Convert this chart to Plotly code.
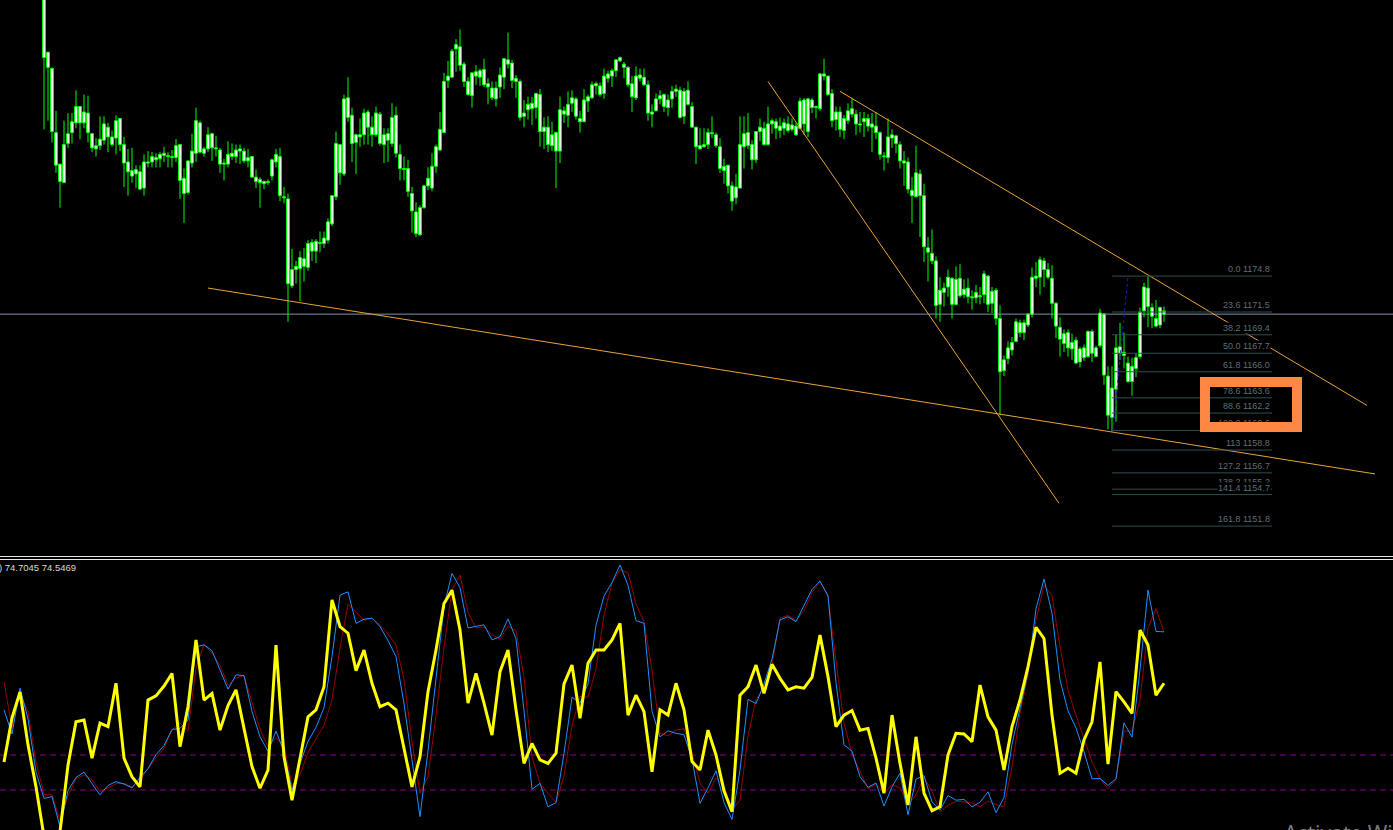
import plotly.graph_objects as go

# ---------------- price candles (bar index 0 = first visible bar) ----------------
OPEN = [
1201.1,1195.4,1193.9,1188.0,1185.1,1183.4,1187.0,1188.0,1188.9,1190.4,
1188.9,1189.8,1187.9,1186.8,1186.8,1187.3,1188.5,1187.6,1187.5,1189.3,
1186.9,1185.3,1184.5,1184.2,1184.4,1182.9,1185.3,1185.3,1185.7,1185.6,
1185.9,1185.9,1185.8,1185.7,1186.9,1183.8,1182.5,1185.2,1186.1,1188.9,
1186.1,1186.5,1187.9,1186.6,1186.4,1185.2,1185.1,1185.8,1186.4,1186.3,
1186.3,1185.4,1185.8,1183.9,1183.7,1183.5,1183.4,1184.0,1185.3,1185.8,
1182.1,1181.9,1173.9,1175.4,1175.5,1176.4,1175.6,1177.9,1177.1,1177.9,
1177.8,1178.1,1179.6,1182.1,1186.9,1184.2,1191.2,1189.6,1187.1,1187.8,
1187.8,1189.9,1188.5,1187.8,1189.7,1186.9,1187.3,1187.0,1189.6,1186.0,
1184.7,1184.7,1182.4,1180.7,1178.6,1181.1,1183.1,1182.9,1184.9,1186.4,
1188.0,1192.8,1193.1,1195.7,1195.9,1194.3,1192.7,1191.4,1193.2,1193.1,
1193.8,1192.5,1192.1,1191.1,1192.2,1193.1,1194.7,1194.4,1193.0,1192.7,
1189.5,1190.1,1190.2,1190.3,1191.5,1188.1,1188.5,1186.8,1188.0,1186.3,
1190.0,1189.6,1190.7,1191.1,1189.3,1189.0,1190.9,1191.2,1192.3,1192.3,
1191.6,1193.0,1193.2,1193.7,1194.6,1194.3,1194.0,1192.5,1191.2,1193.0,
1193.1,1192.4,1189.9,1190.0,1191.1,1191.5,1190.3,1191.1,1191.8,1191.9,
1189.5,1191.9,1190.4,1188.5,1186.5,1186.7,1186.9,1188.0,1187.8,1186.7,
1184.9,1185.0,1183.1,1182.0,1182.9,1186.7,1188.0,1186.9,1185.5,1188.1,
1188.4,1186.9,1188.8,1189.0,1188.6,1188.4,1188.8,1188.3,1188.6,1188.4,
1191.0,1188.1,1191.0,1190.3,1190.2,1193.4,1193.2,1191.6,1189.2,1189.9,
1188.2,1189.1,1189.7,1189.7,1188.8,1189.0,1189.3,1188.8,1188.6,1188.0,
1185.8,1185.7,1187.5,1187.7,1186.9,1185.4,1185.3,1182.7,1182.1,1184.2,
1182.2,1177.4,1176.9,1176.2,1172.2,1173.3,1173.8,1174.6,1172.2,1174.6,
1173.1,1173.7,1172.9,1172.8,1173.0,1173.1,1174.8,1172.3,1173.5,1170.9,
1166.1,1167.2,1168.0,1168.8,1170.5,1169.6,1170.3,1171.3,1174.6,1174.7,
1176.2,1175.4,1174.6,1172.3,1170.1,1169.5,1168.2,1168.7,1168.9,1166.9,
1168.2,1167.4,1169.7,1167.4,1168.4,1171.3,1165.6,1161.8,1164.4,1167.7,
1167.8,1166.8,1165.1,1166.3,1167.4,1171.6,1173.7,1171.9,1170.9,1170.3,
1171.6]
HIGH = [
1202.5,1195.4,1194.0,1190.0,1185.1,1189.1,1189.8,1189.8,1191.9,1190.4,
1191.5,1191.4,1188.0,1187.5,1189.5,1189.5,1188.9,1188.2,1189.6,1189.3,
1187.6,1186.5,1186.6,1185.0,1185.0,1186.0,1186.3,1186.2,1186.1,1186.2,
1186.7,1186.2,1186.4,1187.4,1186.9,1184.7,1185.4,1187.9,1190.3,1189.1,
1186.7,1188.5,1188.0,1187.7,1186.6,1185.6,1187.2,1187.0,1186.9,1186.9,
1186.6,1186.5,1185.8,1184.6,1183.9,1183.6,1183.7,1185.6,1186.5,1186.6,
1183.0,1182.4,1177.3,1176.2,1177.1,1177.4,1178.1,1178.2,1178.2,1178.9,
1178.9,1180.1,1182.2,1188.1,1186.9,1191.5,1193.1,1190.3,1187.9,1189.3,
1190.2,1190.1,1189.5,1190.4,1189.9,1188.4,1188.4,1190.7,1190.4,1186.9,
1185.8,1185.5,1183.0,1181.6,1181.3,1183.2,1184.8,1186.1,1186.9,1189.9,
1193.5,1194.6,1195.7,1196.6,1197.5,1194.5,1193.1,1193.5,1194.2,1193.9,
1194.8,1193.0,1192.7,1192.7,1194.0,1194.8,1197.2,1194.7,1193.3,1192.9,
1191.0,1191.3,1191.3,1191.6,1192.0,1189.4,1189.5,1189.0,1188.1,1191.3,
1190.4,1191.8,1191.9,1191.3,1190.0,1192.0,1191.5,1192.7,1192.7,1192.6,
1193.9,1193.7,1193.9,1194.7,1195.0,1194.5,1194.1,1193.2,1194.1,1193.9,
1193.9,1192.8,1190.6,1191.6,1191.9,1191.6,1191.5,1192.3,1192.4,1192.2,
1192.1,1192.7,1190.8,1188.5,1188.4,1188.4,1188.4,1189.5,1188.0,1187.5,
1185.6,1185.0,1183.5,1184.2,1189.5,1189.5,1189.8,1187.3,1188.1,1189.3,
1189.0,1190.4,1189.3,1189.3,1189.4,1189.3,1189.5,1189.3,1188.9,1191.2,
1191.2,1191.2,1191.2,1190.5,1193.5,1194.8,1193.2,1192.0,1190.4,1190.4,
1189.6,1190.7,1191.2,1190.1,1189.9,1189.9,1189.7,1189.8,1189.9,1188.1,
1186.2,1189.3,1188.3,1187.8,1187.2,1186.3,1185.7,1183.9,1186.8,1184.6,
1183.3,1178.4,1179.1,1176.6,1174.7,1174.2,1175.4,1174.7,1175.7,1175.9,
1174.5,1174.6,1173.5,1174.0,1173.8,1175.3,1174.9,1173.8,1173.7,1172.1,
1167.5,1168.8,1169.2,1170.9,1170.8,1170.8,1171.4,1175.6,1176.1,1176.6,
1176.5,1176.0,1175.8,1172.4,1171.0,1169.9,1169.9,1169.5,1169.2,1168.3,
1168.5,1169.8,1169.9,1168.4,1171.8,1171.4,1166.5,1166.5,1169.4,1170.5,
1169.6,1167.4,1167.3,1167.7,1171.9,1174.2,1174.8,1172.3,1172.6,1172.0,
1172.0]
LOW = [
1188.3,1189.1,1187.1,1184.3,1181.1,1183.4,1186.6,1187.0,1188.4,1187.4,
1188.4,1187.1,1186.2,1185.8,1186.4,1186.9,1186.2,1186.7,1186.0,1186.3,
1183.0,1182.2,1183.4,1182.9,1182.7,1182.2,1184.8,1184.8,1184.8,1184.8,
1185.3,1184.8,1184.8,1185.3,1181.9,1179.7,1182.3,1184.8,1185.3,1186.1,
1185.8,1186.2,1185.4,1185.8,1184.3,1183.6,1184.8,1185.5,1185.2,1185.1,
1185.2,1184.8,1183.9,1182.9,1181.1,1182.8,1183.2,1183.6,1184.8,1181.7,
1181.5,1170.6,1173.7,1174.1,1172.5,1174.3,1175.3,1176.2,1176.0,1177.0,
1177.4,1177.8,1179.4,1181.8,1183.2,1184.0,1189.0,1185.3,1184.2,1186.7,
1186.9,1186.9,1186.7,1187.6,1186.8,1185.2,1185.3,1186.7,1185.7,1183.6,
1183.6,1182.1,1178.8,1178.4,1178.5,1181.0,1182.7,1182.6,1184.3,1186.3,
1188.0,1192.1,1193.0,1193.6,1193.7,1192.2,1191.4,1190.3,1192.4,1192.3,
1192.2,1190.6,1191.0,1190.4,1191.2,1192.0,1193.9,1192.1,1191.2,1189.1,
1188.5,1189.2,1188.7,1189.3,1186.7,1186.5,1186.2,1186.3,1182.9,1185.2,
1188.9,1188.5,1189.9,1189.2,1188.0,1189.0,1189.9,1191.1,1191.5,1191.3,
1191.1,1192.6,1192.2,1193.1,1194.5,1193.0,1192.2,1189.9,1191.0,1192.7,
1192.3,1189.1,1188.5,1190.0,1190.6,1189.9,1189.5,1190.3,1191.3,1189.3,
1188.8,1190.5,1188.5,1185.1,1186.5,1186.6,1186.5,1187.5,1186.6,1184.3,
1183.3,1182.4,1180.8,1181.4,1182.9,1184.7,1186.5,1184.6,1185.2,1187.2,
1186.8,1186.8,1187.9,1187.4,1187.5,1187.8,1188.0,1188.1,1187.7,1188.3,
1187.8,1187.6,1189.8,1189.3,1190.0,1192.8,1191.4,1188.5,1188.2,1187.6,
1187.4,1188.8,1189.4,1187.8,1188.0,1187.6,1188.1,1186.2,1187.4,1185.5,
1184.5,1185.2,1186.6,1186.1,1184.7,1183.1,1182.4,1179.7,1182.1,1178.4,
1176.1,1174.3,1175.9,1170.9,1170.6,1172.0,1172.9,1170.9,1172.1,1172.8,
1172.8,1172.3,1171.7,1172.3,1172.2,1172.3,1171.5,1171.4,1170.3,1162.0,
1165.6,1166.7,1167.5,1168.7,1169.2,1168.9,1170.1,1171.0,1173.8,1173.1,
1173.8,1174.5,1170.9,1169.1,1167.4,1167.8,1167.4,1167.1,1166.7,1166.4,
1167.0,1167.3,1166.9,1167.4,1168.2,1164.8,1160.7,1160.5,1161.4,1167.1,
1166.3,1165.0,1163.8,1165.5,1167.2,1171.0,1170.1,1170.0,1170.1,1170.0,
1170.6]
CLOSE = [
1194.9,1194.0,1188.1,1185.0,1183.5,1186.9,1187.9,1189.0,1190.4,1188.9,
1189.9,1188.0,1186.6,1186.5,1187.4,1188.8,1187.6,1186.9,1189.1,1186.9,
1185.2,1184.4,1184.0,1184.6,1182.8,1185.3,1185.2,1185.8,1185.5,1186.0,
1186.1,1185.8,1185.7,1186.8,1183.6,1182.4,1185.4,1186.3,1189.1,1186.2,
1186.5,1187.8,1186.6,1186.5,1185.1,1185.1,1186.0,1186.1,1185.8,1186.5,
1185.4,1185.7,1183.9,1183.5,1183.4,1183.3,1183.5,1185.5,1186.0,1182.2,
1182.0,1174.1,1175.4,1175.7,1176.5,1175.7,1177.8,1177.1,1178.0,1177.8,
1178.3,1179.8,1182.2,1187.0,1184.3,1191.1,1189.4,1187.0,1187.8,1187.6,
1189.8,1188.5,1187.8,1189.8,1187.0,1187.8,1187.9,1189.4,1186.1,1184.7,
1184.6,1182.6,1180.8,1178.7,1181.1,1183.1,1183.8,1184.9,1186.7,1188.3,
1192.7,1193.2,1195.5,1196.1,1194.2,1192.7,1191.5,1193.5,1193.6,1193.7,
1192.4,1192.2,1191.2,1192.1,1193.3,1194.8,1194.3,1192.8,1192.7,1189.4,
1189.8,1190.6,1190.7,1191.6,1188.1,1188.5,1186.9,1187.8,1186.3,1190.1,
1189.7,1190.6,1191.2,1189.5,1189.0,1191.0,1191.3,1192.4,1192.5,1191.5,
1193.2,1193.4,1193.7,1194.7,1194.9,1194.0,1192.4,1191.3,1193.2,1193.3,
1192.4,1189.8,1189.7,1191.1,1191.4,1190.4,1191.0,1191.8,1192.0,1189.4,
1191.8,1190.6,1188.5,1186.7,1186.8,1186.9,1188.0,1187.9,1186.8,1184.7,
1184.5,1183.1,1181.7,1183.0,1186.9,1187.9,1186.8,1185.5,1188.1,1188.5,
1186.9,1188.8,1189.1,1188.4,1188.2,1188.9,1188.2,1188.7,1187.8,1190.9,
1188.8,1191.1,1190.3,1190.4,1193.4,1193.2,1191.5,1189.1,1189.9,1188.3,
1189.3,1190.0,1190.2,1188.8,1188.7,1189.3,1188.6,1188.5,1188.0,1186.0,
1185.8,1187.6,1187.8,1187.0,1185.4,1185.2,1182.8,1182.2,1184.3,1182.2,
1177.5,1177.0,1176.2,1172.1,1173.5,1173.7,1174.7,1172.2,1174.5,1173.0,
1173.6,1172.9,1172.8,1173.3,1172.9,1175.0,1172.2,1173.4,1170.9,1166.0,
1167.1,1168.2,1168.7,1170.6,1169.6,1170.5,1171.3,1174.7,1174.8,1176.3,
1175.4,1174.7,1172.3,1170.2,1169.0,1168.6,1169.6,1168.1,1166.8,1168.1,
1167.3,1169.7,1167.7,1168.2,1171.4,1165.7,1162.0,1164.5,1168.2,1168.3,
1167.5,1165.1,1166.5,1167.3,1171.5,1173.8,1172.0,1171.1,1170.2,1171.9,
1171.3]

BID = 1171.3

# trend lines: (bar index, price) end points
TREND_LINES = [
    ([41.0, 332.75], [1173.7, 1156.6]),
    ([181.0, 253.75], [1192.7, 1153.9]),
    ([199.0, 330.75], [1191.8, 1162.9]),
]

# Fibonacci retracement
FIB_LEVELS = ["0.0", "23.6", "38.2", "50.0", "61.8", "78.6", "88.6", "100.0",
              "113", "127.2", "138.2", "141.4", "161.8"]
FIB_PRICES = [1174.8, 1171.5, 1169.4, 1167.7, 1166.0, 1163.6, 1162.2, 1160.6,
              1158.8, 1156.7, 1155.2, 1154.7, 1151.8]
FIB_BARS = [267.0, 307.0]
FIB_ANCHOR_BARS = [267.25, 271.0]
FIB_ANCHOR_PRICES = [1160.6, 1174.8]

# ---------------- oscillator (every second bar) ----------------
IND_BARS = list(range(-10, 281, 2))
YELLOW = [
28.0,40.6,48.0,32.9,20.9,6.7,5.7,8.1,27.1,39.5,
40.0,29.1,39.1,38.1,50.5,29.1,23.8,20.9,45.7,46.9,
49.7,53.3,32.4,43.8,62.9,45.7,47.6,37.1,44.1,48.6,
37.6,26.7,20.5,25.7,61.4,29.5,17.1,28.6,40.9,42.9,
49.5,74.3,66.7,64.8,54.1,60.0,50.5,43.8,44.8,42.9,
31.9,20.9,29.5,48.1,60.0,73.3,77.1,65.7,44.8,53.3,
44.8,35.7,53.8,60.0,42.9,27.6,33.3,28.6,27.6,30.5,
50.3,55.7,40.5,56.2,60.0,60.0,62.9,67.6,41.4,47.1,
42.4,25.2,42.9,41.4,50.5,42.9,28.1,25.7,37.1,30.0,
19.8,13.8,47.1,49.5,55.7,47.6,55.9,51.9,48.6,49.5,
49.1,52.2,64.3,52.4,38.1,41.4,42.7,37.1,37.6,29.1,
19.1,41.4,27.6,15.7,35.2,19.1,14.1,15.2,30.0,36.2,
36.0,33.8,50.0,40.9,37.1,25.7,38.1,45.7,55.2,66.5,
63.3,41.4,24.8,26.2,24.8,34.3,39.5,56.6,27.4,48.1,
45.2,41.9,65.7,61.4,47.1,50.5]
BLUE = [
42.9,36.0,49.1,40.3,25.1,17.6,18.1,9.5,19.8,23.6,
25.1,21.7,18.6,21.3,22.4,21.7,20.6,23.6,26.1,30.1,
32.7,37.3,37.6,40.0,60.9,61.5,59.8,54.3,48.8,52.9,
52.7,42.4,35.2,31.1,36.8,30.9,20.0,27.6,33.9,37.9,
43.5,58.1,75.7,76.6,67.6,68.8,69.1,66.7,62.7,58.1,
44.6,28.6,12.4,31.2,52.4,72.4,81.9,77.8,66.3,66.7,
67.2,62.9,63.8,68.9,63.2,42.7,20.2,21.9,15.2,16.4,
30.5,46.5,44.9,50.3,67.1,75.4,79.3,84.3,78.5,68.4,
67.6,42.5,35.2,36.9,36.2,35.8,28.9,16.2,20.6,25.5,
16.4,11.6,25.7,45.9,44.7,50.3,57.4,68.6,69.5,68.1,
72.6,77.3,79.7,75.5,50.7,32.9,31.1,23.8,20.8,22.0,
15.4,20.9,24.8,12.9,23.1,24.1,16.6,14.3,18.4,17.1,
17.3,15.2,16.5,19.5,13.5,17.9,33.1,43.8,53.6,71.8,
80.3,70.5,51.4,42.6,37.7,30.9,23.2,23.3,21.3,23.2,
39.2,35.1,54.3,77.1,65.3,65.2]
RED = [
50.9,37.7,47.6,42.3,28.0,18.7,18.6,11.4,18.3,23.2,
24.3,22.9,19.5,20.7,21.8,21.9,20.9,22.9,26.2,29.2,
32.0,37.1,39.2,36.8,54.9,61.5,59.1,55.6,49.9,52.0,
52.7,45.1,37.4,32.3,34.9,32.9,21.2,24.3,30.7,34.7,
38.5,45.7,60.5,73.1,70.7,68.5,69.1,67.1,64.6,61.4,
51.6,33.7,19.1,23.9,41.3,60.7,77.3,81.4,70.7,66.3,
66.6,64.4,63.1,66.8,65.5,52.1,29.5,21.9,19.1,16.5,
24.0,38.4,46.7,46.5,54.5,69.9,79.1,82.9,82.1,73.1,
68.2,54.3,36.2,35.5,37.1,37.5,30.7,21.9,19.1,23.4,
21.1,14.3,17.1,35.4,45.9,48.9,55.8,69.1,69.9,68.4,
71.3,76.4,79.5,75.2,56.8,39.1,30.3,25.2,20.4,21.7,
19.1,21.5,20.7,15.9,18.6,23.6,19.6,13.8,15.6,16.8,
16.5,16.3,15.2,16.9,15.8,15.2,26.7,41.9,52.9,68.6,
78.5,75.5,60.9,48.6,41.3,34.7,28.1,23.3,20.4,23.1,
36.8,36.8,45.7,66.3,71.8,65.2]
IND_LEVELS = [30, 20]
IND_LABEL = ") 74.7045 74.5469"

# ---------------- figure ----------------
W, H = 1393, 830
FONT = "Liberation Sans"
n = min(len(OPEN), len(HIGH), len(LOW), len(CLOSE))
bars = list(range(n))

fig = go.Figure()

# wicks (split around bodies so that bodies stay clean)
wx, wy = [], []
for i in bars:
    o, h, l, c = OPEN[i], HIGH[i], LOW[i], CLOSE[i]
    top, bot = max(o, c), min(o, c)
    wx += [i, i, None, i, i, None]
    wy += [h, top, None, bot, l, None]
fig.add_trace(go.Scatter(x=wx, y=wy, mode="lines", line=dict(color="#00FF00", width=1),
                         hoverinfo="skip", xaxis="x", yaxis="y"))

# bodies
fig.add_trace(go.Bar(
    x=bars,
    y=[max(abs(CLOSE[i] - OPEN[i]), 0.06) for i in bars],
    base=[min(OPEN[i], CLOSE[i]) for i in bars],
    width=0.72,
    marker=dict(color="#FFFFFF", line=dict(color="#00FF00", width=1)),
    hoverinfo="skip", xaxis="x", yaxis="y"))

# trend lines
for tx, ty in TREND_LINES:
    fig.add_trace(go.Scatter(x=tx, y=ty, mode="lines", line=dict(color="#E9A33B", width=1),
                             hoverinfo="skip", xaxis="x", yaxis="y"))

# fibonacci level lines
fx, fy = [], []
for p in FIB_PRICES:
    fx += [FIB_BARS[0], FIB_BARS[1], None]
    fy += [p, p, None]
fig.add_trace(go.Scatter(x=fx, y=fy, mode="lines", line=dict(color="#2F4F4F", width=1),
                         hoverinfo="skip", xaxis="x", yaxis="y"))
fig.add_trace(go.Scatter(x=FIB_ANCHOR_BARS, y=FIB_ANCHOR_PRICES, mode="lines",
                         line=dict(color="#1A1AD0", width=1, dash="dot"),
                         hoverinfo="skip", xaxis="x", yaxis="y"))

# oscillator
fig.add_trace(go.Scatter(x=IND_BARS, y=RED, mode="lines", line=dict(color="#9A0000", width=1),
                         hoverinfo="skip", xaxis="x", yaxis="y2"))
fig.add_trace(go.Scatter(x=IND_BARS, y=BLUE, mode="lines", line=dict(color="#1E90FF", width=1),
                         hoverinfo="skip", xaxis="x", yaxis="y2"))
fig.add_trace(go.Scatter(x=IND_BARS, y=YELLOW, mode="lines", line=dict(color="#FFFF00", width=3),
                         hoverinfo="skip", xaxis="x", yaxis="y2"))

shapes = [
    dict(type="line", xref="paper", yref="y", x0=0, x1=1, y0=BID, y1=BID,
         line=dict(color="#8090A8", width=1), layer="below"),
    dict(type="line", xref="paper", yref="paper", x0=0, x1=1, y0=1 - 556.5 / H, y1=1 - 556.5 / H,
         line=dict(color="#E6E6E6", width=1)),
    dict(type="line", xref="paper", yref="paper", x0=0, x1=1, y0=1 - 559.5 / H, y1=1 - 559.5 / H,
         line=dict(color="#E6E6E6", width=1)),
]
for lv in IND_LEVELS:
    shapes.append(dict(type="line", xref="paper", yref="y2", x0=0, x1=1, y0=lv, y1=lv,
                       line=dict(color="#8A008A", width=1, dash="6px,4px"), layer="below"))

annotations = []
for lab, p in zip(FIB_LEVELS, FIB_PRICES):
    annotations.append(dict(x=FIB_BARS[1] - 0.25, y=p, xref="x", yref="y", text=f"{lab} {p:.1f}",
                            showarrow=False, xanchor="right", yanchor="bottom", yshift=1,
                            font=dict(family=FONT, size=9, color="#5E6E78"),
                            bgcolor="#000000", borderpad=0))
# highlight box
annotations.append(dict(x=1251 / W, y=1 - 404.5 / H, xref="paper", yref="paper", text="",
                        showarrow=False, xanchor="center", yanchor="middle",
                        width=82, height=35, borderwidth=10, borderpad=0,
                        bordercolor="#FF8744", bgcolor="rgba(0,0,0,0)"))
annotations.append(dict(x=0, y=1 - 561 / H, xref="paper", yref="paper", text=IND_LABEL,
                        showarrow=False, xanchor="left", yanchor="top", xshift=-2,
                        font=dict(family=FONT, size=9.5, color="#DADADA"), borderpad=0))
annotations.append(dict(x=1283 / W, y=1 - 818 / H, xref="paper", yref="paper",
                        text="Activate Windows", showarrow=False, xanchor="left", yanchor="top",
                        font=dict(family="Noto Sans", size=21, color="#7A7A7A"), borderpad=0))

axis_off = dict(showgrid=False, zeroline=False, showticklabels=False, ticks="", showline=False)
fig.update_layout(
    width=W, height=H, margin=dict(l=0, r=0, t=0, b=0),
    paper_bgcolor="#000000", plot_bgcolor="#000000",
    showlegend=False, hovermode=False,
    xaxis=dict(range=[-11, 337.25], anchor="y2", **axis_off),
    yaxis=dict(domain=[1 - 555 / H, 1], range=[1200.2 - 555 / 10.87, 1200.2], anchor="x", **axis_off),
    yaxis2=dict(domain=[0, 270 / H], range=[20 - 40 / 3.5, 20 + 230 / 3.5], anchor="x", **axis_off),
    shapes=shapes, annotations=annotations,
    font=dict(family=FONT),
)

fig.write_html("out.html", config={"displayModeBar": False},
               post_script="document.body.style.margin='0';document.body.style.background='#000';document.body.style.overflow='hidden';")
